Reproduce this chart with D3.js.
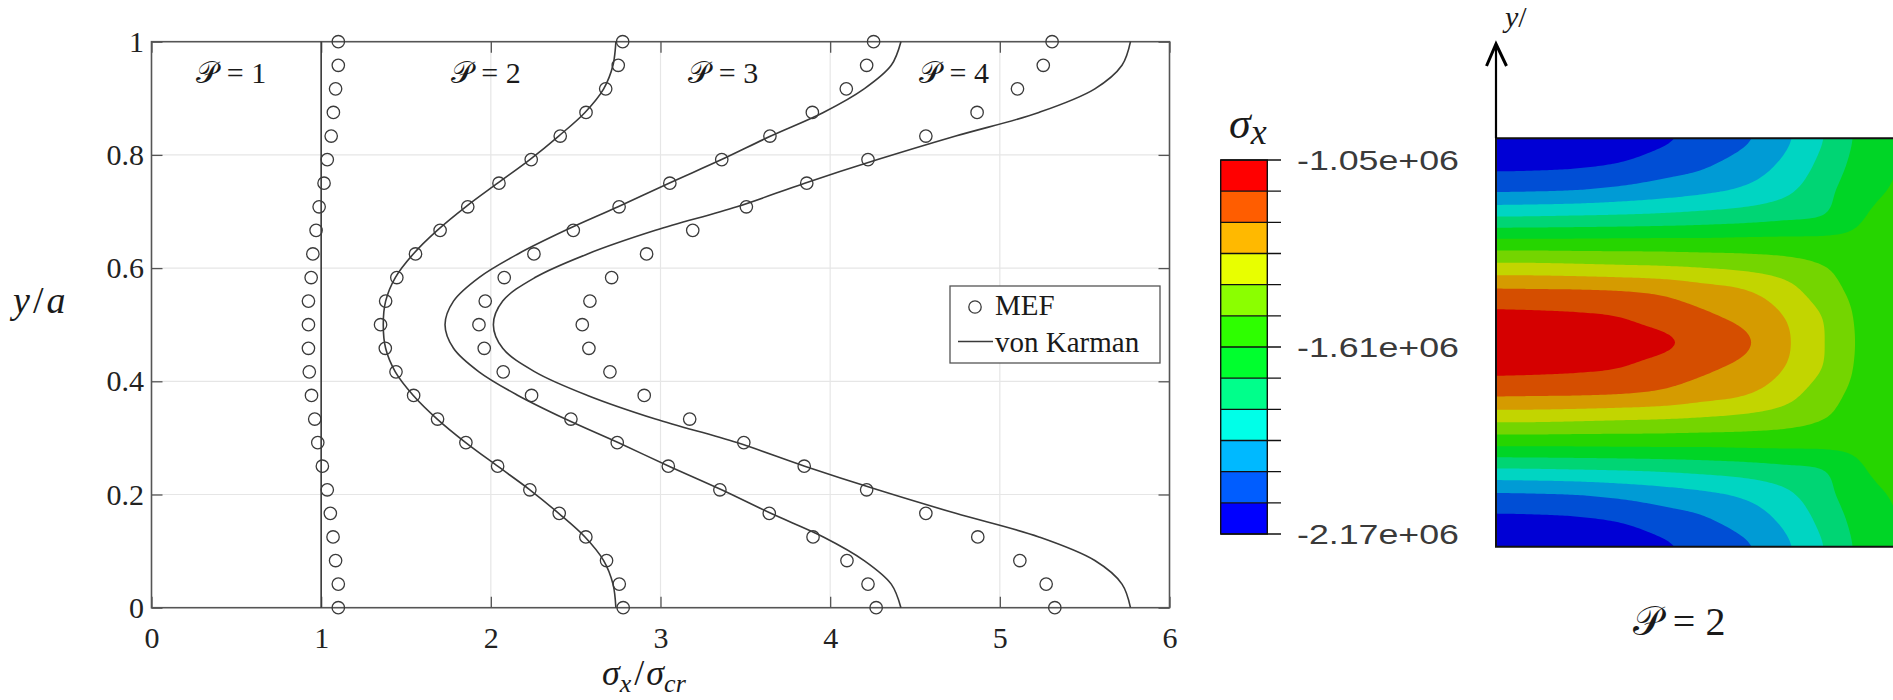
<!DOCTYPE html>
<html><head><meta charset="utf-8">
<script src="https://cdn.jsdelivr.net/npm/d3@7"></script>
<style>html,body{margin:0;padding:0;background:#fff;overflow:hidden}</style>
</head><body>
<svg id="fig" width="1893" height="700"></svg>
<script>
// ---------- stress profiles across the plate width ----------
const yPos = [0, 0.0417, 0.0833, 0.125, 0.1667, 0.2083, 0.25, 0.2917, 0.3333, 0.375, 0.4167, 0.4583, 0.5,
              0.5417, 0.5833, 0.625, 0.6667, 0.7083, 0.75, 0.7917, 0.8333, 0.875, 0.9167, 0.9583, 1];

// finite-element results (MEF), sigma_x / sigma_cr
const mefP1 = [1.101, 1.101, 1.085, 1.070, 1.054, 1.036, 1.007, 0.980, 0.962, 0.943, 0.930, 0.925, 0.925,
               0.925, 0.941, 0.951, 0.970, 0.988, 1.017, 1.036, 1.059, 1.072, 1.085, 1.101, 1.101];
const mefP2 = [2.780, 2.757, 2.682, 2.560, 2.403, 2.230, 2.040, 1.853, 1.686, 1.545, 1.441, 1.378, 1.350,
               1.380, 1.446, 1.556, 1.701, 1.864, 2.048, 2.238, 2.409, 2.561, 2.677, 2.751, 2.777];
const mefP3 = [4.271, 4.223, 4.099, 3.899, 3.641, 3.350, 3.046, 2.745, 2.472, 2.240, 2.073, 1.961, 1.930,
               1.967, 2.079, 2.254, 2.486, 2.756, 3.055, 3.361, 3.645, 3.895, 4.095, 4.215, 4.256];
const mefP4 = [5.324, 5.273, 5.118, 4.870, 4.564, 4.215, 3.847, 3.491, 3.172, 2.904, 2.702, 2.578, 2.539,
               2.584, 2.712, 2.918, 3.190, 3.506, 3.862, 4.223, 4.564, 4.866, 5.104, 5.256, 5.308];

// von Karman solution, sigma_x / sigma_cr
const vkP1 = [1, 1, 1, 1, 1, 1, 1, 1, 1, 1, 1, 1, 1, 1, 1, 1, 1, 1, 1, 1, 1, 1, 1, 1, 1];
const vkP2 = [2.737, 2.720, 2.665, 2.555, 2.400, 2.230, 2.040, 1.852, 1.684, 1.543, 1.437, 1.380, 1.366,
              1.380, 1.437, 1.543, 1.684, 1.852, 2.040, 2.230, 2.400, 2.555, 2.665, 2.720, 2.737];
const vkP3 = [4.417, 4.360, 4.200, 3.960, 3.650, 3.360, 3.050, 2.750, 2.440, 2.160, 1.930, 1.780, 1.730,
              1.780, 1.930, 2.160, 2.440, 2.750, 3.050, 3.360, 3.650, 3.960, 4.200, 4.360, 4.417];
const vkP4 = [5.770, 5.720, 5.560, 5.230, 4.740, 4.280, 3.850, 3.450, 2.970, 2.570, 2.260, 2.070, 2.015,
              2.070, 2.260, 2.570, 2.970, 3.450, 3.850, 4.280, 4.740, 5.230, 5.560, 5.720, 5.770];

const profileLabels = ["1", "2", "3", "4"];
const profileLabelX = [0.47, 1.97, 3.37, 4.73];
const profileLabelY = 0.927;

const xTicks = [0, 1, 2, 3, 4, 5, 6];
const yTicks = [0, 0.2, 0.4, 0.6, 0.8, 1];
const legendLabels = ["MEF", "von Karman"];

// ---------- sigma_x field on the plate (P = 2), in colour-bar steps above the lower bound ----------
const fieldX = [0, 0.1, 0.2, 0.3, 0.4, 0.5, 0.6, 0.7, 0.8, 0.9, 1.0];
const fieldY = [1, 0.9375, 0.875, 0.8125, 0.75, 0.6875, 0.625, 0.5625, 0.5,
                0.4375, 0.375, 0.3125, 0.25, 0.1875, 0.125, 0.0625, 0];
const fieldLevel = [
  [0.00, 0.05, 0.15, 0.35, 0.80, 1.35, 1.80, 2.72, 3.97, 5.30, 5.95],
  [0.73, 0.76, 0.84, 1.04, 1.46, 1.81, 2.36, 3.12, 4.25, 5.45, 6.05],
  [1.83, 1.87, 1.96, 2.18, 2.45, 2.73, 3.10, 3.69, 4.62, 5.70, 6.10],
  [3.85, 3.89, 3.95, 4.02, 4.12, 4.27, 4.44, 4.69, 4.99, 5.95, 6.20],
  [6.15, 6.15, 6.15, 6.17, 6.18, 6.17, 6.21, 6.22, 6.20, 6.20, 6.25],
  [8.25, 8.24, 8.17, 8.09, 8.02, 7.89, 7.72, 7.46, 7.02, 6.45, 6.30],
  [10.18, 10.15, 10.12, 10.03, 9.83, 9.46, 9.12, 8.47, 7.50, 6.65, 6.35],
  [11.27, 11.23, 11.15, 11.00, 10.60, 10.21, 9.77, 9.05, 7.98, 6.75, 6.40],
  [11.90, 11.85, 11.70, 11.50, 11.20, 10.65, 10.20, 9.25, 8.07, 6.80, 6.40],
  [11.27, 11.23, 11.15, 11.00, 10.60, 10.21, 9.77, 9.05, 7.98, 6.75, 6.40],
  [10.18, 10.15, 10.12, 10.03, 9.83, 9.46, 9.12, 8.47, 7.50, 6.65, 6.35],
  [8.25, 8.24, 8.17, 8.09, 8.02, 7.89, 7.72, 7.46, 7.02, 6.45, 6.30],
  [6.15, 6.15, 6.15, 6.17, 6.18, 6.17, 6.21, 6.22, 6.20, 6.20, 6.25],
  [3.85, 3.89, 3.95, 4.02, 4.12, 4.27, 4.44, 4.69, 4.99, 5.95, 6.20],
  [1.83, 1.87, 1.96, 2.18, 2.45, 2.73, 3.10, 3.69, 4.62, 5.70, 6.10],
  [0.73, 0.76, 0.84, 1.04, 1.46, 1.81, 2.36, 3.12, 4.25, 5.45, 6.05],
  [0.00, 0.05, 0.15, 0.35, 0.80, 1.35, 1.80, 2.72, 3.97, 5.30, 5.95]
];

// colour bar: 12 bands from the lowest to the highest stress
const cbarMin = -2.17e6, cbarMax = -1.05e6;
const cbarColors = ["#0000ff", "#005dff", "#00b9ff", "#00ffe8", "#00ff8b", "#00ff2e",
                    "#2eff00", "#8bff00", "#e8ff00", "#ffb900", "#ff5d00", "#ff0000"];
const cbarTickValues = [-1.05e6, -1.61e6, -2.17e6];
const cbarTickLabels = ["-1.05e+06", "-1.61e+06", "-2.17e+06"];

// ---------- drawing ----------
const svg = d3.select("#fig");
const serif = "'Liberation Serif','DejaVu Serif',serif";
const ink = "#3a3a3a";

const defs = svg.append("defs");
defs.append("clipPath").attr("id", "panelClip").append("rect")
  .attr("x", 1496).attr("y", 138.3).attr("width", 400).attr("height", 408.4);
const shadow = defs.append("filter").attr("id", "dashShadow")
  .attr("x", "-50%").attr("y", "-10%").attr("width", "200%").attr("height", "130%");
shadow.append("feDropShadow").attr("dx", 1).attr("dy", 2).attr("stdDeviation", 1.5)
  .attr("flood-color", "#000").attr("flood-opacity", 0.3);

// ===== left: stress profiles =====
const xS = d3.scaleLinear([0, 6], [151.5, 1169.5]);
const yS = d3.scaleLinear([0, 1], [607.7, 41.7]);

const plot = svg.append("g");
// grid
plot.append("g").selectAll("line").data(xTicks.slice(1, -1)).join("line")
  .attr("x1", d => xS(d)).attr("x2", d => xS(d)).attr("y1", yS(0)).attr("y2", yS(1))
  .attr("stroke", "#e6e6e6").attr("stroke-width", 1.2);
plot.append("g").selectAll("line").data(yTicks.slice(1, -1)).join("line")
  .attr("y1", d => yS(d)).attr("y2", d => yS(d)).attr("x1", xS(0)).attr("x2", xS(6))
  .attr("stroke", "#e6e6e6").attr("stroke-width", 1.2);

// axes (ticks point inward)
function styleAxis(g) {
  g.select(".domain").remove();
  g.selectAll(".tick line").attr("stroke", "#555").attr("stroke-width", 1.3);
  g.selectAll(".tick text").attr("fill", "#222").style("font-family", serif).style("font-size", "30px");
}
plot.append("g").attr("transform", `translate(0,${yS(0)})`)
  .call(d3.axisBottom(xS).tickValues(xTicks).tickSize(-11).tickPadding(19).tickFormat(d => String(d)))
  .call(styleAxis);
plot.append("g").attr("transform", `translate(${xS(0)},0)`)
  .call(d3.axisLeft(yS).tickValues(yTicks).tickSize(-11).tickPadding(7.5).tickFormat(d => String(d)))
  .call(styleAxis);
plot.append("g").attr("transform", `translate(0,${yS(1)})`)
  .call(d3.axisTop(xS).tickValues(xTicks).tickSize(-11).tickFormat(""))
  .call(styleAxis);
plot.append("g").attr("transform", `translate(${xS(6)},0)`)
  .call(d3.axisRight(yS).tickValues(yTicks).tickSize(-11).tickFormat(""))
  .call(styleAxis);

// frame
plot.append("rect").attr("x", xS(0)).attr("y", yS(1))
  .attr("width", xS(6) - xS(0)).attr("height", yS(0) - yS(1))
  .attr("fill", "none").attr("stroke", "#555").attr("stroke-width", 1.6);

// von Karman curves
const vkSeries = [vkP1, vkP2, vkP3, vkP4];
const line = d3.line().x(d => xS(d[0])).y(d => yS(d[1])).curve(d3.curveCatmullRom.alpha(0.5));
plot.append("g").selectAll("path").data(vkSeries).join("path")
  .attr("d", s => line(s.map((v, i) => [v, yPos[i]])))
  .attr("fill", "none").attr("stroke", ink).attr("stroke-width", 1.6);

// MEF markers
const mefSeries = [mefP1, mefP2, mefP3, mefP4];
plot.append("g").selectAll("g").data(mefSeries).join("g")
  .selectAll("circle").data(s => s.map((v, i) => [v, yPos[i]])).join("circle")
  .attr("cx", d => xS(d[0])).attr("cy", d => yS(d[1])).attr("r", 6.2)
  .attr("fill", "none").attr("stroke", ink).attr("stroke-width", 1.3);

// P = n annotations
function pLabel(sel, num, size) {
  sel.append("tspan").text("𝒫");
  sel.append("tspan").text("=").attr("dx", size * 0.28);
  sel.append("tspan").text(num).attr("dx", size * 0.25);
  sel.style("font-family", serif).style("font-size", size + "px").attr("fill", "#1a1a1a");
}
plot.append("g").selectAll("text").data(profileLabels).join("text")
  .attr("x", (d, i) => xS(profileLabelX[i])).attr("y", yS(profileLabelY))
  .attr("text-anchor", "middle")
  .each(function (d) { pLabel(d3.select(this), d, 30); });

// legend
const leg = plot.append("g");
leg.append("rect").attr("x", 950).attr("y", 286).attr("width", 210).attr("height", 77)
  .attr("fill", "#fff").attr("stroke", "#555").attr("stroke-width", 1.3);
leg.append("circle").attr("cx", 975).attr("cy", 307).attr("r", 6.2)
  .attr("fill", "none").attr("stroke", ink).attr("stroke-width", 1.3);
leg.append("line").attr("x1", 958).attr("x2", 993).attr("y1", 341.5).attr("y2", 341.5)
  .attr("stroke", ink).attr("stroke-width", 1.6);
leg.selectAll("text").data(legendLabels).join("text")
  .attr("x", 995).attr("y", (d, i) => i === 0 ? 315 : 352)
  .text(d => d).attr("fill", "#1a1a1a")
  .style("font-family", serif).style("font-size", "29px");

// axis titles
const xt = plot.append("text").attr("x", 602).attr("y", 685)
  .style("font-family", serif).style("font-size", "36px").attr("fill", "#1a1a1a");
xt.append("tspan").text("σ").style("font-style", "italic");
xt.append("tspan").text("x").style("font-style", "italic").style("font-size", "26px").attr("dy", 7);
xt.append("tspan").text("/").attr("dy", -7).attr("dx", 3);
xt.append("tspan").text("σ").style("font-style", "italic").attr("dx", 2);
xt.append("tspan").text("cr").style("font-style", "italic").style("font-size", "26px").attr("dy", 7);

const yt = plot.append("text").attr("x", 13).attr("y", 313)
  .style("font-family", serif).style("font-size", "38px").attr("fill", "#1a1a1a");
yt.append("tspan").text("y").style("font-style", "italic");
yt.append("tspan").text("/").attr("dx", 3);
yt.append("tspan").text("a").style("font-style", "italic").attr("dx", 3);

// ===== right: colour bar =====
const cS = d3.scaleLinear([cbarMin, cbarMax], [534, 160]);
const step = (cbarMax - cbarMin) / cbarColors.length;
const bandEdges = d3.range(cbarColors.length + 1).map(i => cbarMin + i * step);
const cbar = svg.append("g");
cbar.selectAll("rect").data(cbarColors).join("rect")
  .attr("x", 1220.7).attr("width", 46.6)
  .attr("y", (d, i) => cS(bandEdges[i + 1])).attr("height", (d, i) => cS(bandEdges[i]) - cS(bandEdges[i + 1]))
  .attr("fill", d => d);
cbar.append("rect").attr("x", 1220.7).attr("y", 160).attr("width", 46.6).attr("height", 374)
  .attr("fill", "none").attr("stroke", "#111").attr("stroke-width", 1.4);
cbar.selectAll("line").data(bandEdges).join("line")
  .attr("x1", 1220.7).attr("x2", 1281).attr("y1", d => cS(d)).attr("y2", d => cS(d))
  .attr("stroke", "#111").attr("stroke-width", 1.4);
cbar.selectAll("text.lab").data(cbarTickValues).join("text").attr("class", "lab")
  .attr("x", 1297).attr("y", d => cS(d) + 9.5)
  .text((d, i) => cbarTickLabels[i])
  .attr("textLength", 162).attr("lengthAdjust", "spacingAndGlyphs")
  .attr("fill", "#3a3a3a").style("font-family", "'Liberation Sans','DejaVu Sans',sans-serif")
  .style("font-size", "28px");
const st = cbar.append("text").attr("x", 1229).attr("y", 138)
  .style("font-family", serif).style("font-size", "44px").attr("fill", "#1a1a1a");
st.append("tspan").text("σ").style("font-style", "italic");
st.append("tspan").text("x").style("font-style", "italic").style("font-size", "36px").attr("dy", 6);

// ===== right: contour map of sigma_x =====
const px = d3.scaleLinear([0, 1], [1496, 1904]);
const py = d3.scaleLinear([0, 1], [546.7, 138.3]);
const colPos = d3.scaleLinear(fieldX, d3.range(fieldX.length));
const rowPos = d3.scaleLinear(fieldY, d3.range(fieldY.length));
const nR = fieldY.length, nC = fieldX.length;
const at = (r, c) => fieldLevel[Math.max(0, Math.min(nR - 1, r))][Math.max(0, Math.min(nC - 1, c))];
const cr = (p0, p1, p2, p3, t) =>
  0.5 * (2 * p1 + (-p0 + p2) * t + (2 * p0 - 5 * p1 + 4 * p2 - p3) * t * t + (-p0 + 3 * p1 - 3 * p2 + p3) * t * t * t);
function levelAt(x, y) {
  const c = colPos(x), r = rowPos(y);
  const c0 = Math.min(nC - 2, Math.floor(c)), r0 = Math.min(nR - 2, Math.floor(r));
  const tc = c - c0, tr = r - r0;
  const rows = [-1, 0, 1, 2].map(k =>
    cr(at(r0 + k, c0 - 1), at(r0 + k, c0), at(r0 + k, c0 + 1), at(r0 + k, c0 + 2), tc));
  return cr(rows[0], rows[1], rows[2], rows[3], tr);
}
const N = 161;
const values = new Float64Array(N * N);
for (let j = 0; j < N; j++) {
  for (let i = 0; i < N; i++) {
    const L = levelAt(i / (N - 1), 1 - j / (N - 1));
    values[j * N + i] = cbarMin + L * step;
  }
}
const contours = d3.contours().size([N, N]).thresholds(bandEdges.slice(1, -1))(values);
const proj = d3.geoTransform({
  point(x, y) { this.stream.point(px((x - 0.5) / (N - 1)), py(1 - (y - 0.5) / (N - 1))); }
});
const geo = d3.geoPath(proj);
const shade = c => d3.rgb(c).darker(0.5).formatHex();

const panel = svg.append("g").attr("clip-path", "url(#panelClip)");
panel.append("rect").attr("x", 1496).attr("y", 138.3).attr("width", 400).attr("height", 408.4)
  .attr("fill", shade(cbarColors[0]));
panel.selectAll("path").data(contours).join("path")
  .attr("d", geo).attr("fill", (d, i) => shade(cbarColors[i + 1]));

// plate outline
svg.append("path")
  .attr("d", `M1893,${py(1)}H${px(0)}V${py(0)}H1893`)
  .attr("fill", "none").attr("stroke", "#111").attr("stroke-width", 2);

// y axis arrow of the plate
svg.append("line").attr("x1", px(0)).attr("x2", px(0)).attr("y1", py(1)).attr("y2", 44)
  .attr("stroke", "#000").attr("stroke-width", 2.2);
svg.append("path").attr("d", `M${px(0) - 9.5},66 L${px(0)},44 L${px(0) + 10.5},66`)
  .attr("fill", "none").attr("stroke", "#000").attr("stroke-width", 3);
const ya = svg.append("text").attr("x", 1505).attr("y", 27)
  .style("font-family", serif).style("font-size", "30px").attr("fill", "#1a1a1a");
ya.append("tspan").text("y").style("font-style", "italic");
ya.append("tspan").text("/");

// dashed section line where the profile is taken
svg.append("line").attr("x1", 1542.8).attr("x2", 1542.8).attr("y1", 104.3).attr("y2", 572)
  .attr("stroke", "#000").attr("stroke-width", 4.5).attr("stroke-dasharray", "20.5 16.8")
  .attr("filter", "url(#dashShadow)");

// caption under the map
svg.append("text").attr("x", 1679).attr("y", 635).attr("text-anchor", "middle")
  .each(function () { pLabel(d3.select(this), "2", 40); });
</script>
</body></html>
